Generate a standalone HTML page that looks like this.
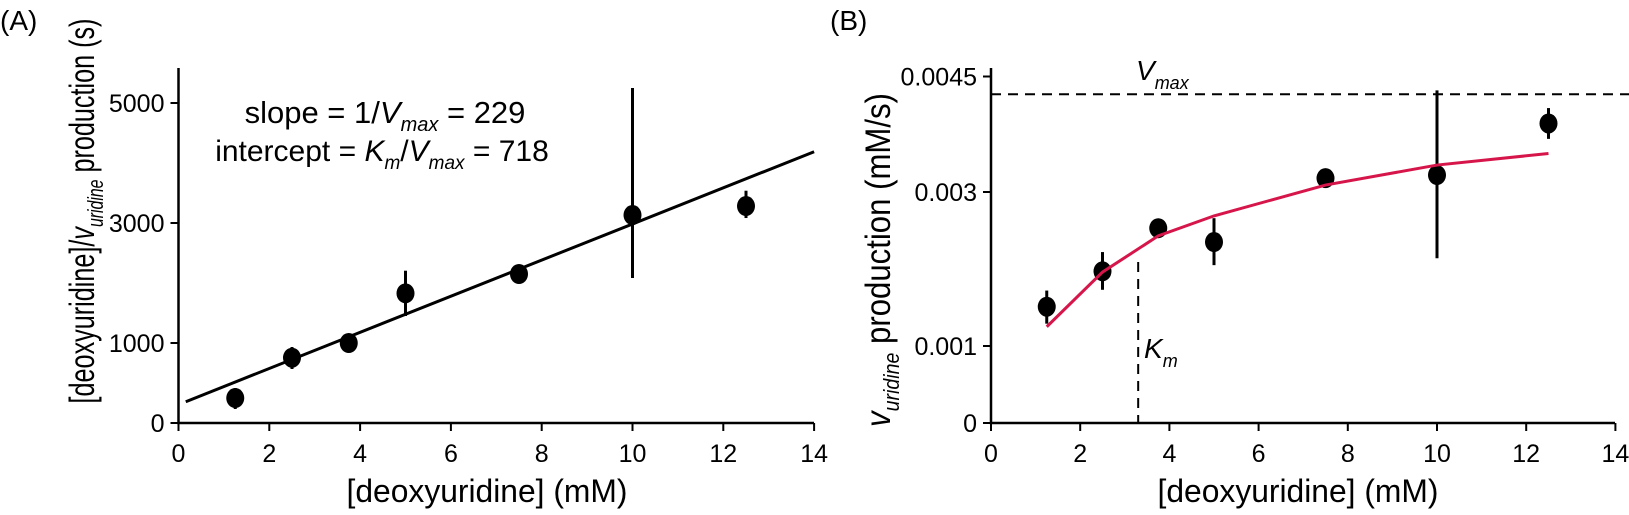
<!DOCTYPE html>
<html><head><meta charset="utf-8"><style>
html,body{margin:0;padding:0;background:#fff;}
svg{display:block;font-family:"Liberation Sans",sans-serif;}
</style></head><body>
<svg id="fig" width="1629" height="515" viewBox="0 0 1629 515"></svg>
<script>
// Panel A data
const aX = [1.25, 2.5, 3.75, 5, 7.5, 10, 12.5];
const aY = [312, 816, 1000, 1828, 2150, 3133, 3283];
const aLo = [175, 675, 1000, 1450, 2150, 2083, 3083];
const aHi = [437, 950, 1000, 2205, 2150, 5250, 3538];
const aFitX = [0.16, 14];
const aFitY = [266, 4188];
const aXTicks = [0, 2, 4, 6, 8, 10, 12, 14];
const aYTicks = [0, 1000, 3000, 5000];
// Panel B data
const bX = [1.25, 2.5, 3.75, 5, 7.5, 10, 12.5];
const bY = [0.00151, 0.00197, 0.00253, 0.00235, 0.00318, 0.00322, 0.00389];
const bLo = [0.00129, 0.00173, 0.00253, 0.00205, 0.00318, 0.00214, 0.00369];
const bHi = [0.00172, 0.00222, 0.00253, 0.00266, 0.00318, 0.00432, 0.00409];
const bFitY = [0.00125, 0.00196, 0.00243, 0.00269, 0.00309, 0.00335, 0.0035];
const bXTicks = [0, 2, 4, 6, 8, 10, 12, 14];
const bYTicks = [0, 0.001, 0.003, 0.0045];
const bYLabels = ["0", "0.001", "0.003", "0.0045"];
const bVmax = 0.00427;
const bKm = 3.3;

const NS = "http://www.w3.org/2000/svg";
const svg = document.getElementById("fig");
function el(tag, attrs, parent, text) {
  const e = document.createElementNS(NS, tag);
  for (const k in attrs) e.setAttribute(k, attrs[k]);
  if (text !== undefined) e.textContent = text;
  (parent || svg).appendChild(e);
  return e;
}
// fit text to a target length by horizontal scaling
function fitText(t, cx, cy, rot, target) {
  const w = t.getBBox().width;
  const s = target / w;
  t.setAttribute("transform", `translate(${cx},${cy}) rotate(${rot}) scale(${s},1)`);
}
const axA = v => 178.5 + v * 45.4;
function ayA(v) { return v <= 1000 ? 423 - v * 0.08 : 343 - (v - 1000) * 0.06; }
const axB = v => 991 + v * 44.6;
const ayB = v => 423 - v * 77000;

function panel(name, xs, ys, x0, x1, yTop, xTicks, yTicks, yLabels) {
  const g = el("g", {});
  
  
  const ax = el("path", {d: `M${x0} ${yTop}V423H${x1}`, stroke: "#000", "stroke-width": 2.5, fill: "none"}, g);
  
  
  xTicks.forEach(t => {
    const x = xs(t);
    const tk = el("line", {x1: x, x2: x, y1: 423, y2: 431, stroke: "#000", "stroke-width": 2}, g);
    
    
    const tl = el("text", {x: x, y: 462, "font-size": 25, "text-anchor": "middle"}, g, String(t));
    
    
  });
  yTicks.forEach((t, i) => {
    const y = ys(t);
    const tk = el("line", {x1: x0 - 8, x2: x0, y1: y, y2: y, stroke: "#000", "stroke-width": 2}, g);
    
    
    const tl = el("text", {x: x0 - 14, y: y + 9, "font-size": 25, "text-anchor": "end"}, g, yLabels[i]);
    
    
  });
  return g;
}
function points(g, xsArr, ysArr, lo, hi, xs, ys) {
  xsArr.forEach((xv, i) => {
    const x = xs(xv);
    if (hi[i] !== lo[i]) {
      const eb = el("line", {x1: x, x2: x, y1: ys(lo[i]), y2: ys(hi[i]), stroke: "#000", "stroke-width": 3}, g);
      
      
    }
    const p = el("ellipse", {cx: x, cy: ys(ysArr[i]), rx: 9, ry: 10, fill: "#000"}, g);
    
    
  });
}

// Panel A
const gA = panel("panel-a", axA, ayA, 178.5, 814, 68, aXTicks, aYTicks, aYTicks.map(String));
const fitA = el("line", {x1: axA(aFitX[0]), y1: ayA(aFitY[0]), x2: axA(aFitX[1]), y2: ayA(aFitY[1]), stroke: "#000", "stroke-width": 3}, gA);


points(gA, aX, aY, aLo, aHi, axA, ayA);
const t1 = el("text", {x: 385, y: 123, "font-size": 31, "text-anchor": "middle"}, gA);


t1.innerHTML = 'slope = 1/<tspan font-style="italic">V</tspan><tspan font-style="italic" font-size="20" dy="8">max</tspan><tspan dy="-8"> = 229</tspan>';
const t2 = el("text", {x: 382, y: 161, "font-size": 30, "text-anchor": "middle"}, gA);


t2.innerHTML = 'intercept = <tspan font-style="italic">K</tspan><tspan font-style="italic" font-size="19" dy="8">m</tspan><tspan dy="-8">/</tspan><tspan font-style="italic">V</tspan><tspan font-style="italic" font-size="19" dy="8">max</tspan><tspan dy="-8"> = 718</tspan>';
const yA = el("text", {x: 0, y: 0, "font-size": 35, "text-anchor": "middle"}, gA);


yA.innerHTML = '[deoxyuridine]/<tspan font-style="italic">v</tspan><tspan font-style="italic" font-size="22" dy="9">uridine</tspan><tspan dy="-9"> production (s)</tspan>';
fitText(yA, 94, 211, -90, 385);
const xA = el("text", {x: 0, y: 0, "font-size": 32, "text-anchor": "middle"}, gA, "[deoxyuridine] (mM)");


fitText(xA, 487, 502, 0, 281);
const lA = el("text", {x: 0, y: 30, "font-size": 28}, gA, "(A)");



// Panel B
const gB = panel("panel-b", axB, ayB, 991, 1615, 68, bXTicks, bYTicks, bYLabels);
const vl = el("line", {x1: 991, x2: 1629, y1: ayB(bVmax), y2: ayB(bVmax), stroke: "#000", "stroke-width": 2, "stroke-dasharray": "10 7"}, gB);


const kl = el("line", {x1: axB(bKm), x2: axB(bKm), y1: 262, y2: 423, stroke: "#000", "stroke-width": 2, "stroke-dasharray": "10 7"}, gB);


points(gB, bX, bY, bLo, bHi, axB, ayB);
const fitB = el("polyline", {points: bX.map((x, i) => axB(x) + "," + ayB(bFitY[i])).join(" "), fill: "none", stroke: "#d6164a", "stroke-width": 3}, gB);


const vt = el("text", {x: 1136, y: 80, "font-size": 28, "font-style": "italic"}, gB);


vt.innerHTML = 'V<tspan font-size="18" dy="9">max</tspan>';
const kt = el("text", {x: 1144, y: 358, "font-size": 28, "font-style": "italic"}, gB);


kt.innerHTML = 'K<tspan font-size="18" dy="9">m</tspan>';
const yB = el("text", {x: 0, y: 0, "font-size": 35, "text-anchor": "middle"}, gB);


yB.innerHTML = '<tspan font-style="italic">v</tspan><tspan font-style="italic" font-size="22" dy="9">uridine</tspan><tspan dy="-9"> production (mM/s)</tspan>';
fitText(yB, 890, 260, -90, 334);
const xB = el("text", {x: 0, y: 0, "font-size": 32, "text-anchor": "middle"}, gB, "[deoxyuridine] (mM)");


fitText(xB, 1298, 502, 0, 281);
const lB = el("text", {x: 830, y: 30, "font-size": 28}, gB, "(B)");


</script>
</body></html>
